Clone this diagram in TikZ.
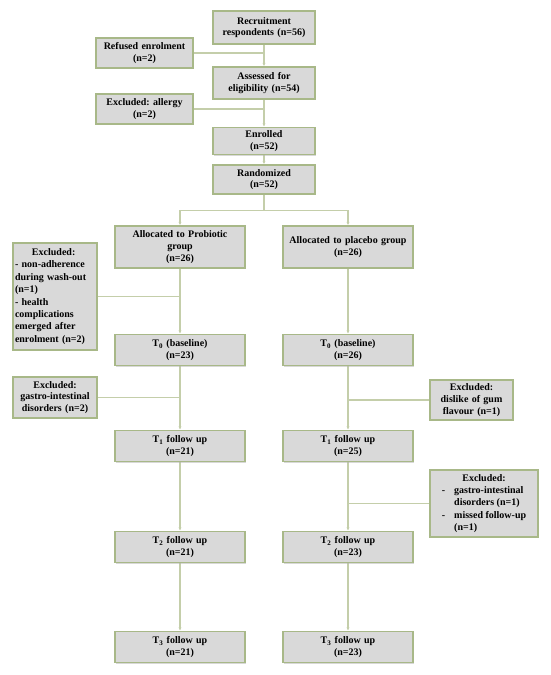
\documentclass[tikz,border=0pt]{standalone}
\usepackage{fontspec}
\setmainfont{Liberation Serif}
\usepackage{tikz}
\usetikzlibrary{
  arrows.meta,
  positioning,
  shadows,
  backgrounds
}
\definecolor{boxline}{RGB}{168,184,136}
\definecolor{boxfill}{RGB}{217,217,217}
\definecolor{linkline}{RGB}{196,206,170}
\frenchspacing

\begin{document}
\begin{tikzpicture}[x=1pt,y=-1pt,
      stage/.style={
         rectangle,
         draw=boxline,
         line width=1.1pt,
         fill=boxfill,
         drop shadow={fill=black!30,shadow xshift=1.2pt,shadow yshift=-1.2pt},
         font=\bfseries\fontsize{10}{11.8}\selectfont,
         align=center,
         inner sep=2pt
      },
      mainbox/.style={stage,text width=98pt,minimum height=31pt},
      armbox/.style={stage,text width=126pt,minimum height=31pt},
      exclbox/.style={stage,inner sep=2pt},
      >={Stealth[length=3pt,width=3pt]},
      link/.style={draw=linkline,line width=1.1pt},
      tip/.style={->,shorten >=0.5pt},
      branch/.style={to path={-- ++(0,#1) -| (\tikztotarget)}}
    ]
    \useasboundingbox (0,0) rectangle (550,675);
    % top column
    \node (n11) [mainbox,minimum height=33pt] at (264,27.5) {Recruitment\\respondents (n=56)};
    \node (n12) [exclbox,text width=93pt,minimum height=30pt] at (144.5,53) {Refused enrolment\\(n=2)};
    \node (n21) [mainbox,minimum height=32pt] at (264,83) {Assessed for\\eligibility (n=54)};
    \node (n22) [exclbox,text width=93pt,minimum height=30pt] at (144.5,109) {Excluded: allergy\\(n=2)};
    \node (n31) [mainbox,minimum height=27pt] at (264,141) {Enrolled\\(n=52)};
    \node (n41) [mainbox,minimum height=29pt] at (264,179.5) {Randomized\\(n=52)};
    % two arms
    \node (n51) [armbox,minimum height=42pt] at (180,247) {Allocated to Probiotic\\group\\(n=26)};
    \node (n52) [armbox,minimum height=42pt] at (348,247) {Allocated to placebo group\\(n=26)\\[10pt]};
    \node (n53) [exclbox,text width=80pt,minimum height=107pt,align=left,
       font=\bfseries\fontsize{10}{12.4}\selectfont] at (55,296.5)
       {\hspace*{17pt}Excluded:\\- non-adherence\\during wash-out\\(n=1)\\- health\\complications\\emerged after\\enrolment (n=2)};
    \node (n61) [armbox] at (180,350) {T\textsubscript{0} (baseline)\\(n=23)};
    \node (n62) [armbox] at (348,350) {T\textsubscript{0} (baseline)\\(n=26)};
    \node (n63) [exclbox,text width=80pt,minimum height=41pt] at (55,397.5) {Excluded:\\gastro-intestinal\\disorders (n=2)};
    \node (n64) [exclbox,text width=79pt,minimum height=40pt] at (471.5,400) {Excluded:\\dislike of gum\\flavour (n=1)};
    \node (n71) [armbox] at (180,446) {T\textsubscript{1} follow up\\(n=21)};
    \node (n72) [armbox] at (348,446) {T\textsubscript{1} follow up\\(n=25)};
    \node (n73) [exclbox,minimum height=67pt,minimum width=108pt] at (484,503.5)
       {\begin{tabular}{@{}l@{\hspace{9pt}}l@{}}
        \multicolumn{2}{c}{Excluded:}\\[0.5pt]
        - & gastro-intestinal\\[0.5pt]
          & disorders (n=1)\\[0.5pt]
        - & missed follow-up\\[0.5pt]
          & (n=1)
        \end{tabular}};
    \node (n81) [armbox] at (180,547) {T\textsubscript{2} follow up\\(n=21)};
    \node (n82) [armbox] at (348,547) {T\textsubscript{2} follow up\\(n=23)};
    \node (n91) [armbox] at (180,647) {T\textsubscript{3} follow up\\(n=21)};
    \node (n92) [armbox] at (348,647) {T\textsubscript{3} follow up\\(n=23)};
    % connectors
    \begin{scope}[on background layer]
    \draw[link,tip] (n11) -- (n21);
    \draw[link] (n12) -- (n12 -| n11);
    \draw[link,tip] (n21) -- (n31);
    \draw[link] (n22) -- (n22 -| n21);
    \draw[link,tip] (n31) -- (n41);
    \draw[link,tip] (n41.south) to[branch=16] (n51.north);
    \draw[link,tip] (n41.south) to[branch=16] (n52.north);
    \draw[link,tip] (n51) -- (n61);
    \draw[link] (n53) -- (n53 -| n51);
    \draw[link,tip] (n52) -- (n62);
    \draw[link,tip] (n61) -- (n71);
    \draw[link] (n63) -- (n63 -| n61);
    \draw[link,tip] (n62) -- (n72);
    \draw[link] (n64) -- (n64 -| n62);
    \draw[link,tip] (n71) -- (n81);
    \draw[link,tip] (n72) -- (n82);
    \draw[link] (n73) -- (n73 -| n72);
    \draw[link,tip] (n81) -- (n91);
    \draw[link,tip] (n82) -- (n92);
    \end{scope}
\end{tikzpicture}
\end{document}
